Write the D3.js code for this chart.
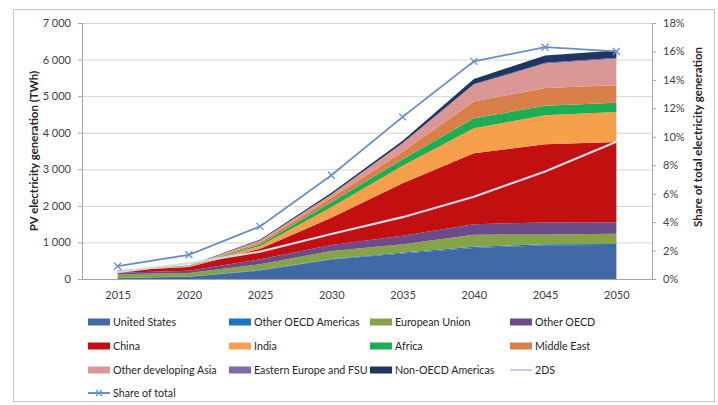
<!DOCTYPE html>
<html><head><meta charset="utf-8">
<script src="https://cdn.jsdelivr.net/npm/d3@7/dist/d3.min.js"></script>
<style>body{margin:0;background:#fff}svg{display:block;font-family:Lato,'Open Sans',sans-serif}</style>
</head><body><svg id="c" width="718" height="405"></svg>
<script>
// ---- data (TWh unless noted) ----
const years = ["2015","2020","2025","2030","2035","2040","2045","2050"];
const seriesNames = ["United States","Other OECD Americas","European Union","Other OECD","China","India","Africa","Middle East","Other developing Asia","Eastern Europe and FSU","Non-OECD Americas"];
const unitedStates        = [30, 60, 230, 530, 700, 850, 920, 930];
const otherOecdAmericas   = [3, 5, 15, 20, 25, 30, 30, 30];
const europeanUnion       = [95, 100, 160, 219, 228, 330, 270, 275];
const otherOecd           = [45, 60, 135, 164, 228, 290, 325, 320];
const china               = [50, 100, 290, 740, 1440, 1940, 2140, 2190];
const india               = [5, 15, 75, 290, 474, 684, 790, 820];
const africa              = [2, 5, 45, 137, 182, 273, 260, 255];
const middleEast          = [2, 5, 45, 120, 200, 456, 490, 475];
const otherDevelopingAsia = [5, 10, 55, 82, 228, 456, 660, 730];
const easternEuropeFsu    = [2, 2, 8, 10, 15, 20, 25, 25];
const nonOecdAmericas     = [3, 5, 25, 45, 60, 140, 200, 195];
const twoDS               = [190, 430, 750, 1230, 1690, 2250, 2940, 3755];
const shareOfTotal        = [0.9, 1.7, 3.7, 7.3, 11.4, 15.3, 16.3, 16.0]; // %
const leftTicks  = [0,1000,2000,3000,4000,5000,6000,7000];
const rightTicks = [0,2,4,6,8,10,12,14,16,18];
const colors = ["#4169A5","#1C75BC","#86A34A","#6B4C89","#C20F0F","#F7A04C","#1DAE55","#D9804A","#DB9795","#8268A8","#1F3660"];

const seriesData = [unitedStates,otherOecdAmericas,europeanUnion,otherOecd,china,india,africa,middleEast,otherDevelopingAsia,easternEuropeFsu,nonOecdAmericas];
const rows = years.map((y,i)=>{const r={year:y};seriesNames.forEach((n,k)=>r[n]=seriesData[k][i]);return r;});

const svg = d3.select("#c");
svg.append("rect").attr("x",13.5).attr("y",9.5).attr("width",701).attr("height",392).attr("fill","#fff").attr("stroke","#C8C8C8");

const L=82,R=652,T=23,B=279;
const x = d3.scalePoint().domain(years).range([L,R]).padding(0.5);
const y = d3.scaleLinear().domain([0,7000]).range([B,T]);
const y2 = d3.scaleLinear().domain([0,18]).range([B,T]);

// gridlines
svg.append("g").selectAll("line").data(leftTicks.slice(1)).join("line")
  .attr("x1",L).attr("x2",R).attr("y1",d=>y(d)+0.5).attr("y2",d=>y(d)+0.5)
  .attr("stroke","#D4D4D4");

// stacked areas
const stack = d3.stack().keys(seriesNames)(rows);
const area = d3.area().x(d=>x(d.data.year)).y0(d=>y(d[0])).y1(d=>y(d[1]));
svg.append("g").selectAll("path").data(stack).join("path")
  .attr("d",area).attr("fill",(d,i)=>colors[i]);

// 2DS line
const line2 = d3.line().x((d,i)=>x(years[i])).y(d=>y(d));
svg.append("path").datum(twoDS).attr("d",line2).attr("fill","none").attr("stroke","#D2D9EA").attr("stroke-width",2.2);

// share line
const lineS = d3.line().x((d,i)=>x(years[i])).y(d=>y2(d));
svg.append("path").datum(shareOfTotal).attr("d",lineS).attr("fill","none").attr("stroke","#6690C4").attr("stroke-width",1.8);
const mk = svg.append("g").selectAll("g").data(shareOfTotal).join("g")
  .attr("transform",(d,i)=>`translate(${x(years[i])},${y2(d)})`);
mk.append("path").attr("d","M-3.5,-3.5L3.5,3.5M-3.5,3.5L3.5,-3.5").attr("stroke","#6690C4").attr("stroke-width",1.3);

// axes
const axL = svg.append("g").attr("transform",`translate(${L},0)`)
  .call(d3.axisLeft(y).tickValues(leftTicks).tickSize(4).tickFormat(d=>d3.format(",")(d).replace(","," ")));
const axR = svg.append("g").attr("transform",`translate(${R},0)`)
  .call(d3.axisRight(y2).tickValues(rightTicks).tickSize(4).tickFormat(d=>d+"%"));
const axB = svg.append("g").attr("transform",`translate(0,${B})`)
  .call(d3.axisBottom(x).tickSize(0).tickPadding(12));
[axL,axR,axB].forEach(a=>{
  a.select(".domain").attr("stroke","#A6A6A6");
  a.selectAll(".tick line").attr("stroke","#A6A6A6");
  a.selectAll("text").attr("font-size",11).attr("fill","#404040").attr("font-family","Lato,'Open Sans',sans-serif");
});
axL.selectAll("text").attr("dx",-4);
axR.selectAll("text").attr("dx",4);

// axis titles
svg.append("text").attr("transform",`translate(38,${(T+B)/2}) rotate(-90)`).attr("text-anchor","middle")
  .attr("font-size",11.5).attr("font-weight","bold").attr("fill","#262626").text("PV electricity generation (TWh)");
svg.append("text").attr("transform",`translate(702,${(T+B)/2-14}) rotate(-90)`).attr("text-anchor","middle")
  .attr("font-size",11.5).attr("font-weight","bold").attr("fill","#262626").text("Share of total electricity generation");

// legend
const legendItems = seriesNames.map((n,i)=>({name:n,type:"rect",color:colors[i]}))
  .concat([{name:"2DS",type:"line",color:"#C3CDE3"},{name:"Share of total",type:"marker",color:"#6690C4"}]);
const colX=[88,229,370,510], rowY=[322,346,370,393];
const lg = svg.append("g").selectAll("g").data(legendItems).join("g")
  .attr("transform",(d,i)=>`translate(${colX[i%4]},${rowY[Math.floor(i/4)]})`);
lg.filter(d=>d.type==="rect").append("rect").attr("x",0).attr("y",-3.5).attr("width",22).attr("height",7).attr("fill",d=>d.color);
lg.filter(d=>d.type!=="rect").append("line").attr("x1",0).attr("x2",22).attr("y1",0).attr("y2",0).attr("stroke",d=>d.color).attr("stroke-width",2);
lg.filter(d=>d.type==="marker").append("path").attr("d","M8,-3L14,3M8,3L14,-3").attr("stroke",d=>d.color).attr("stroke-width",1.2);
lg.append("text").attr("x",25).attr("y",0).attr("dy","0.35em").attr("font-size",10.7).attr("fill","#262626").text(d=>d.name);
</script></body></html>
